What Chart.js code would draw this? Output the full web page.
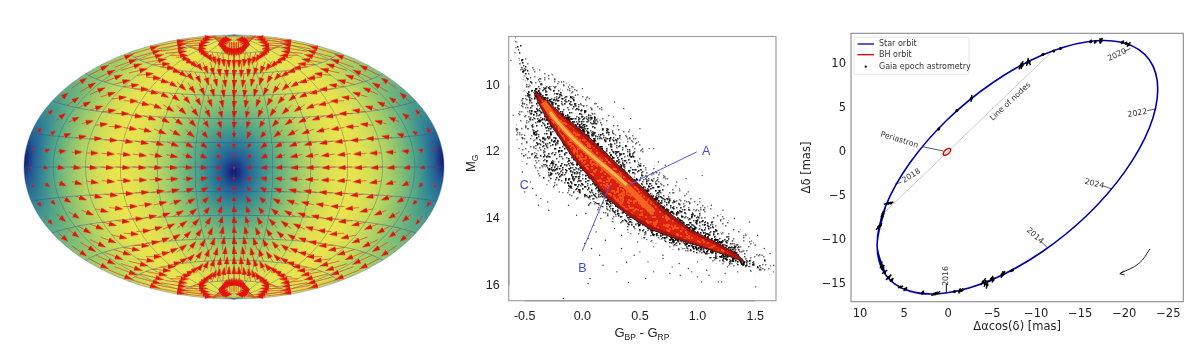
<!DOCTYPE html>
<html><head><meta charset="utf-8">
<script src="https://cdn.jsdelivr.net/npm/chart.js@4/dist/chart.umd.min.js"></script>
<style>
html,body{margin:0;padding:0;background:#fff;width:1200px;height:355px;overflow:hidden}
canvas{position:absolute;display:block}
#sky{left:20px;top:31px;filter:blur(.45px)}
#cmd{left:450px;top:20px;filter:blur(.55px)}
#orbit{left:800px;top:20px;filter:blur(.4px)}
</style></head><body>
<canvas id="sky" width="428" height="272"></canvas>
<canvas id="cmd" width="340" height="335"></canvas>
<canvas id="orbit" width="400" height="320"></canvas>
<script>
/* ---------- left panel: all-sky vector map ---------- */
const arrowLons=[0,13.33,26.67,40,53.33,66.67,80,93.33,106.67,120,133.33,146.67,160,173.33];
const arrowLats=[0,7.5,15,22.5,30,37.5,45,52.5,60,67.5,75,84];
const arrowLengths=[
[0,2.3,4.5,6.4,8.0,9.2,9.8,10,9.6,8.7,7.3,5.5,3.4,1.2],
[1.3,2.7,4.7,6.6,8.3,9.4,9.9,10,9.6,8.7,7.3,5.6,3.6,1.8],
[2.6,3.4,5.1,6.8,8.3,9.4,9.9,10,9.6,8.8,7.5,5.9,4.2,2.8],
[3.8,4.4,5.7,7.2,8.5,9.5,9.9,10,9.6,8.9,7.7,6.4,4.9,4.0],
[5.0,5.4,6.4,7.6,8.7,9.5,9.9,10,9.7,9.0,8.0,6.9,5.8,5.1],
[6.1,6.4,7.1,8.0,8.9,9.6,9.9,10,9.7,9.2,8.4,7.5,6.7,6.2],
[7.1,7.3,7.8,8.5,9.2,9.7,9.9,10,9.8,9.4,8.7,8.1,7.5,7.1],
[7.9,8.0,8.4,8.9,9.4,9.8,9.9,10,9.8,9.5,9.1,8.6,8.2,8.0],
[8.7,8.8,9.0,9.3,9.6,9.8,10,10,9.9,9.7,9.4,9.1,8.8,8.7],
[9.2,9.3,9.4,9.6,9.8,9.9,10,10,10,9.8,9.6,9.5,9.3,9.2],
[9.7,9.7,9.7,9.8,9.9,9.9,10,10,10,9.9,9.8,9.8,9.7,9.7],
[9.9,9.9,9.9,9.9,10,10,10,10,10,10,9.9,9.9,9.9,9.9]];
const apexLatitude=-3;
const meridianLons=[-180,-150,-120,-90,-60,-30,0,30,60,90,120,150,180];
const parallelLats=[-75,-60,-45,-30,-15,0,15,30,45,60,75];
const fieldAngles=[0,10,20,30,40,50,60,70,80,90];
const fieldColors=[[20,20,115],[36,92,150],[52,136,148],[84,166,134],[120,186,120],[155,202,106],[186,214,96],[210,222,86],[226,226,80],[234,228,78]];

/* ---------- middle panel: colour-magnitude diagram ---------- */
const cmdXTicks=[-0.5,0,0.5,1,1.5];
const cmdYTicks=[10,12,14,16];
const cloudOuterX=[-.585,-.527,-.44,-.281,.009,.211,.428,.645,.877,1.166,1.398,1.60,1.673,1.543,1.398,1.109,.732,.414,.211,.009,-.31,-.527,-.585,-.556,-.498,-.556,-.599,-.585];
const cloudOuterY=[8.54,8.73,9.43,9.62,10.22,10.76,11.36,12.49,13.18,13.78,14.37,15.16,15.66,15.71,15.51,15.31,14.87,14.47,13.98,13.53,12.99,12.29,11.40,10.71,10.02,9.43,8.93,8.54];
const cloudInnerX=[-.57,-.527,-.411,-.223,.009,.211,.385,.588,.819,1.109,1.369,1.543,1.369,1.051,.703,.385,.182,-.049,-.281,-.397,-.454,-.498,-.585,-.57];
const cloudInnerY=[8.64,9.13,10.02,10.02,10.61,11.21,11.80,12.79,13.48,14.17,14.87,15.51,15.41,15.11,14.67,14.17,13.68,13.18,12.79,11.90,11.01,9.82,8.83,8.64];
const haloX=[-.5,-.34,-.195,-.02,.155,.33,.505,.68,.91,1.14,1.32,1.45,1.39,1.28,1.08,.85,.62,.415,.24,.095,-.05,-.165,-.28,-.36,-.46,-.5];
const haloY=[9.7,10.28,10.72,11.2,11.76,12.35,12.9,13.5,14.14,14.55,14.92,15.4,15.42,15.27,15.04,14.79,14.48,14.05,13.55,12.97,12.38,11.77,11.18,10.62,10.0,9.7];
const coreX=[-.411,-.31,-.165,.009,.182,.356,.530,.703,.935,1.166,1.34,1.412,1.369,1.253,1.051,.819,.588,.385,.211,.067,-.078,-.194,-.31,-.391,-.411];
const coreY=[10.17,10.46,10.91,11.40,11.95,12.54,13.09,13.68,14.32,14.72,15.06,15.31,15.26,15.11,14.87,14.62,14.32,13.88,13.38,12.79,12.20,11.60,11.01,10.46,10.17];
const hotX=[-.368,-.165,.009,.182,.356,.53,.703,.935,1.166,1.311,1.166,.819,.588,.385,.211,.067,-.078,-.194,-.31,-.368];
const hotY=[10.34,11.01,11.55,12.10,12.69,13.23,13.83,14.42,14.82,15.11,14.97,14.52,14.19,13.76,13.23,12.64,12.05,11.45,10.86,10.34];
const orangeRidgeX=[-.339,-.223,-.064,.096,.269,.443,.616];
const orangeRidgeY=[10.51,11.06,11.65,12.15,12.68,13.23,13.83];
const yellowRidgeX=[-.281,-.223,-.064,.096,.269,.385];
const yellowRidgeY=[10.81,11.06,11.65,12.15,12.64,12.99];
const lineAX=[.40,.993];
const lineAY=[12.99,12.0];
const lineBX=[.24,0];
const lineBY=[12.99,14.97];
const axisLeftX=[-.639,-.639];
const axisLeftY=[10,16];
const axisBottomX=[-.5,1.5];
const axisBottomY=[16.466,16.466];
const cmdLabels=['A','B','C'];
const cmdLabelX=[1.075,0,-.505];
const cmdLabelY=[11.98,15.51,13.01];
const strayX=[1.04,1.505,.067,.05,.385,.40,-.165,1.036,1.21,-.62,-.6,-.52,-.43,-.5,-.47,-.38,-.29,-.2,-.12,-.05,.03,.12,.2,.08,.15,.28,.34,.45,.5,.57,.62,.7,.78,.85,.95,1.0,1.1,1.18,1.26,1.35,1.45,1.52,1.58,1.63,1.66,.1,.16,.22,.05,.02,.18,.3,.34,.48,.55,.62,.7,.76,.84,.92,1.0,1.08,1.16,1.24,-.55,-.5,-.45,-.4,-.36,-.3,-.24,-.18,-.12,-.06,.0,.06,.12,.62,.72,.82,.92,1.02,1.12,1.22,1.32,1.42,1.5,1.56,.42,.5,.58,.36,.28,.66,.9];
const strayY=[12.71,16.05,15.8,15.95,15.31,15.92,16.4,15.9,15.9,9.25,10.9,12.6,13.1,13.2,11.3,13.6,13.75,13.2,13.6,13.9,13.85,14.4,14.65,14.9,15.1,14.3,14.9,15.1,15.0,15.3,15.6,15.2,15.45,15.7,15.6,15.75,15.7,15.9,15.45,15.6,14.1,14.5,14.9,15.05,15.4,14.2,14.0,13.9,14.6,14.75,15.4,15.6,14.5,14.7,15.8,14.85,15.1,15.65,15.35,15.5,15.3,15.55,15.2,15.65,11.9,11.5,12.9,13.3,13.4,13.5,13.0,9.9,10.05,10.3,10.1,10.4,10.55,11.9,12.4,12.9,13.2,13.4,13.6,13.75,14.0,14.5,14.8,15.1,11.0,11.3,11.9,10.7,10.5,12.3,12.8];

/* ---------- right panel: astrometric orbit ---------- */
const orbitXTicks=[10,5,0,-5,-10,-15,-20,-25];
const orbitYTicks=[10,5,0,-5,-10,-15];
const starX=[7.10,8.06,7.10,4.33,.095,-5.10,-10.64,-15.84,-20.07,-22.84,-23.8,-22.84,-20.07,-15.84,-10.64,-5.10,.095,4.33,7.10,8.06,7.10];
const starY=[-13.91,-10.57,-6.15,-1.20,3.70,7.93,11.02,12.56,12.38,10.51,7.17,2.75,-2.20,-7.10,-11.33,-14.42,-15.96,-15.78,-13.91,-10.57,-6.15];
const bhX=[.57,.42,-.08,-.3,-.15,.27,.57];
const bhY=[-.3,.15,.45,.34,-.04,-.34,-.3];
const gaiaX=[7.88,7.7,7.5,7.4,6.8,6.5,1.06,-1,-2.65,-8.2,-8.4,-9,-9.2,-10.75,-12,-12.75,-16.2,-16.7,-17.3,-17.4,-19.8,-20.2,-20.5,7.6,7.4,7.2,6.74,6.4,5.4,4.85,2.88,1.6,1.2,-.72,-1.3,-1.6,-3.98,-4.2,-4.43,-4.9,-5.1,-6.13,-6.3,-7.27];
const gaiaY=[-8.5,-8.3,-7.3,-7,-5.8,-5.75,2.65,4.75,6.13,9.8,9.9,10.2,10.3,11.1,11.5,11.8,12.6,12.55,12.65,12.7,12.5,12.4,12.25,-12.8,-13.1,-13.6,-14.2,-14.5,-15.3,-15.55,-15.95,-16.1,-16,-15.83,-15.75,-15.65,-14.7,-14.9,-15.05,-14.4,-14.5,-13.9,-13.8,-13.4];
const gaiaBarX=[.3,.2,.1,.05,.5,.3,.1,.1,.05,.15,.1,.1,-.15,.2,.1,.1,.1,.1,.05,.1,.15,.1,.2,.1,.15,.3,.3,.2,.3,.2,.1,.3,.3,.1,.1,.1,.3,.1,.1,.2,.1,.1,.15,.2];
const gaiaBarY=[.3,.25,.4,.3,.1,.1,.15,.1,.4,.4,.45,.4,.4,.1,.1,.1,.2,.2,.3,.3,.2,.15,.25,.4,.3,.2,.3,.2,.1,.2,.25,.2,.2,.1,.3,.2,.4,.4,.45,.35,.3,.4,.3,.2];
const nodesX=[-11.6,7.5];
const nodesY=[11.25,-7.1];
const leaderX=[-19.96,-20.7,NaN,-22.6,-23.56,NaN,-17.6,-18.6,NaN,-10.57,-11.25,NaN,.19,.19,NaN,5.3,5.98,NaN,2.95,.57];
const leaderY=[11.44,11.8,NaN,4.73,4.92,NaN,-3.8,-4.2,NaN,-10.15,-10.83,NaN,-15,-15.95,NaN,-3.4,-3.6,NaN,.64,.15];
const curveX=[-22.9,-21.7,-19.5];
const curveY=[-11,-12.6,-13.8];
const barbX=[-20.0,-19.5,-20.05];
const barbY=[-13.45,-13.8,-13.95];
const noteText=['2020','2022','2024','2014','2016','2018','Line of nodes','Periastron'];
const noteX=[-19.2,-21.5,-16.6,-9.85,.19,4.17,-7.08,5.53];
const noteY=[11.06,4.43,-3.6,-9.5,-14.05,-2.69,5.76,1.4];
const noteAngle=[-25,-10,14,42,-90,-32,-43,17];
const legendNames=['Star orbit','BH orbit','Gaia epoch astrometry'];

/* ---------- helpers ---------- */
const rad=d=>d*Math.PI/180, deg=r=>r*180/Math.PI;
function hammer(lon,lat){const l=rad(lon),p=rad(lat),z=Math.sqrt(1+Math.cos(p)*Math.cos(l/2));
  return {x:Math.cos(p)*Math.sin(l/2)/z,y:Math.sin(p)/z};}
const pairs=(xs,ys)=>xs.map((x,i)=>({x,y:ys[i]}));
const base={responsive:false,animation:false,events:[],plugins:{legend:{display:false},tooltip:{enabled:false}}};
/* fill textures only: a fixed xorshift walk picks the grain positions of a tile */
function grain(size,n,paint,dot){let s=2463534242;const next=()=>{s^=s<<13;s^=s>>>17;s^=s<<5;return s>>>0;};
  const c=document.createElement('canvas');c.width=c.height=size;const g=c.getContext('2d');paint(g);
  for(let i=0;i<n;i++){g.fillRect(next()%size,next()%size,dot,dot);}
  return g.createPattern(c,'repeat');}
const stipple=(n,alpha)=>grain(256,n,g=>{g.fillStyle='rgba(0,0,0,'+alpha+')';},1.5);
const speck=(col,bg,n)=>grain(128,n,g=>{g.fillStyle=bg;g.fillRect(0,0,128,128);g.fillStyle=col;},2);
const frame=(color,w)=>({id:'frame',afterDraw(ch){const a=ch.chartArea,g=ch.ctx;g.save();g.strokeStyle=color;g.lineWidth=w;
  g.strokeRect(a.left,a.top,a.right-a.left,a.bottom-a.top);g.restore();}});

/* ---------- left chart ---------- */
function headCanvas(w,h){const c=document.createElement('canvas');c.width=w;c.height=h;const g=c.getContext('2d');
  g.fillStyle='#e0120a';g.beginPath();g.moveTo(w/2,0);g.lineTo(w,h);g.lineTo(0,h);g.closePath();g.fill();return c;}
const heads=[headCanvas(2,3),headCanvas(4,5),headCanvas(5,7),headCanvas(5,8)];
const shaft=[],tipPts=[],tipRot=[],tipStyle=[];
const apex=[Math.cos(rad(apexLatitude)),0,Math.sin(rad(apexLatitude))];
[-1,1].forEach(sy=>arrowLats.forEach((la,r)=>{ if(sy<0&&la===0) return;
 [-1,1].forEach(sx=>arrowLons.forEach((lo,c)=>{ if(sx<0&&lo===0) return;
  const lat=sy*la,lon=sx*lo,len=arrowLengths[r][c]*1.05;
  const P=[Math.cos(rad(lat))*Math.cos(rad(lon)),Math.cos(rad(lat))*Math.sin(rad(lon)),Math.sin(rad(lat))];
  const d=P[0]*apex[0]+P[2]*apex[2];
  let u=[apex[0]-d*P[0],-d*P[1],apex[2]-d*P[2]];const n=Math.hypot(...u)||1;u=u.map(v=>v/n);
  const t=rad(Math.max(len,.9)),E=P.map((v,i)=>v*Math.cos(t)+u[i]*Math.sin(t));
  const a=hammer(lon,lat),b=hammer(deg(Math.atan2(E[1],E[0])),deg(Math.asin(E[2])));
  shaft.push(a,b,{x:NaN,y:NaN});
  tipPts.push({x:a.x+(b.x-a.x)*.8,y:a.y+(b.y-a.y)*.8});
  tipRot.push(deg(Math.atan2((b.x-a.x)*210,(b.y-a.y)*132)));
  tipStyle.push(heads[len<2?0:len<4.5?1:len<7?2:3]);
 }));
}));
const merPts=[],parPts=[];
meridianLons.forEach(lo=>{for(let la=-90;la<=90;la+=3)merPts.push(hammer(lo,la));merPts.push({x:NaN,y:NaN});});
parallelLats.forEach(la=>{for(let lo=-180;lo<=180;lo+=5)parPts.push(hammer(lo,la));parPts.push({x:NaN,y:NaN});});
const skyField={id:'skyField',beforeDatasetsDraw(ch){
  const {left,top,right,bottom}=ch.chartArea,w=Math.round(right-left),h=Math.round(bottom-top),sx=ch.scales.x,sy=ch.scales.y;
  const off=document.createElement('canvas');off.width=w;off.height=h;const g=off.getContext('2d'),im=g.createImageData(w,h);
  const A=[Math.cos(rad(apexLatitude)),Math.sin(rad(apexLatitude))];
  for(let j=0;j<h;j++)for(let i=0;i<w;i++){
    let x=sx.getValueForPixel(left+i+.5),y=sy.getValueForPixel(top+j+.5);const r=Math.hypot(x,y);
    if(r>.999){x*=.999/r;y*=.999/r;}
    const X=x*2*Math.SQRT2,Y=y*Math.SQRT2,z=Math.sqrt(Math.max(0,1-X*X/16-Y*Y/4));
    const lon=2*Math.atan2(z*X,2*(2*z*z-1)),lat=Math.asin(z*Y);
    let cd=Math.cos(lat)*Math.cos(lon)*A[0]+Math.sin(lat)*A[1];
    let ang=deg(Math.acos(Math.abs(Math.min(1,Math.max(-1,cd)))));
    const k=Math.min(fieldAngles.length-2,Math.floor(ang/10)),f=ang/10-k,o=(j*w+i)*4;
    for(let q=0;q<3;q++)im.data[o+q]=fieldColors[k][q]*(1-f)+fieldColors[k+1][q]*f;
    im.data[o+3]=255;
  }
  g.putImageData(im,0,0);
  const c=ch.ctx;c.save();c.beginPath();
  c.ellipse(sx.getPixelForValue(0),sy.getPixelForValue(0),sx.getPixelForValue(1)-sx.getPixelForValue(0),sy.getPixelForValue(-1)-sy.getPixelForValue(0),0,0,Math.PI*2);
  c.clip();c.drawImage(off,left,top);c.restore();
}};
new Chart(document.getElementById('sky'),{type:'scatter',plugins:[skyField],
 data:{datasets:[
  {data:tipPts,pointStyle:tipStyle,pointRotation:tipRot,pointRadius:3,backgroundColor:'#e0120a',borderWidth:0,clip:false},
  {data:shaft,showLine:true,pointRadius:0,borderColor:'rgba(222,50,24,.7)',borderWidth:.9,spanGaps:false,clip:false},
  {data:parPts,showLine:true,pointRadius:0,borderColor:'rgba(40,70,170,.5)',borderWidth:.8,spanGaps:false,clip:false},
  {data:merPts,showLine:true,pointRadius:0,borderColor:'rgba(50,90,140,.55)',borderWidth:.7,spanGaps:false,clip:false}
 ]},
 options:{...base,layout:{padding:0,autoPadding:false},scales:{
  x:{type:'linear',display:false,min:-1.0190,max:1.0190},
  y:{type:'linear',display:false,min:-1.0303,max:1.0303}}}});

/* ---------- middle chart ---------- */
const area=(xs,ys,fill,order,extra)=>({data:pairs(xs,ys),showLine:true,pointRadius:0,fill:'shape',backgroundColor:fill,borderWidth:0,order,...extra});
const cmdText={id:'cmdText',afterDraw(ch){const g=ch.ctx,sx=ch.scales.x,sy=ch.scales.y;g.save();
  g.font='12.5px "Liberation Sans"';g.fillStyle='#4646c8';g.textAlign='center';g.textBaseline='middle';
  cmdLabels.forEach((t,i)=>g.fillText(t,sx.getPixelForValue(cmdLabelX[i]),sy.getPixelForValue(cmdLabelY[i])));
  g.fillStyle='#222';g.textAlign='left';g.textBaseline='alphabetic';
  const run=(parts,x,y)=>{parts.forEach(([t,sub])=>{g.font=(sub?'8.5px':'13px')+' "Liberation Sans"';g.fillText(t,x,y+(sub?3:0));x+=g.measureText(t).width;});};
  const ps=[['G'],['BP',1],[' - G'],['RP',1]];
  run(ps,164.5,317);
  g.translate(25,152);g.rotate(-Math.PI/2);run([['M'],['G',1]],0,0);
  g.restore();}};
new Chart(document.getElementById('cmd'),{type:'scatter',plugins:[frame('#a0a0a0',1.2),cmdText],
 data:{datasets:[
  {data:pairs(lineAX,lineAY),showLine:true,pointRadius:0,borderColor:'#5858d8',borderWidth:1,order:1},
  {data:pairs(lineBX,lineBY),showLine:true,pointRadius:0,borderColor:'#5858d8',borderWidth:1,order:1},
  {data:pairs(axisLeftX,axisLeftY),showLine:true,pointRadius:0,borderColor:'#666',borderWidth:1.3,clip:false,order:0},
  {data:pairs(axisBottomX,axisBottomY),showLine:true,pointRadius:0,borderColor:'#666',borderWidth:1.3,clip:false,order:0},
  {data:pairs(yellowRidgeX,yellowRidgeY),showLine:true,pointRadius:0,borderColor:'#ffb84c',borderWidth:3,tension:.3,order:2},
  {data:pairs(orangeRidgeX,orangeRidgeY),showLine:true,pointRadius:0,borderColor:'#f4641e',borderWidth:6,tension:.3,order:3},
  area(hotX,hotY,speck('#f4501a','#d8200f',1800),4),
  area(coreX,coreY,'#a81410',5,{borderColor:'#3a0808',borderWidth:.8}),
  area(haloX,haloY,stipple(20000,.72),6),
  {data:pairs(strayX,strayY),pointRadius:.7,backgroundColor:'#333',borderWidth:0,order:7},
  area(cloudInnerX,cloudInnerY,stipple(11000,.68),8),
  area(cloudOuterX,cloudOuterY,stipple(3800,.55),9)
 ]},
 options:{...base,layout:{padding:{left:0,right:14,top:13.3,bottom:0},autoPadding:false},scales:{
  x:{type:'linear',min:-.639,max:1.681,grid:{display:false,drawTicks:false},border:{display:false},
     afterFit:s=>{s.height=54.3},afterBuildTicks:s=>{s.ticks=cmdXTicks.map(value=>({value}))},
     ticks:{padding:8,maxRotation:0,autoSkip:false,color:'#222',font:{family:'Liberation Sans',size:12.5},callback:v=>v.toFixed(1)}},
  y:{type:'linear',reverse:true,min:8.534,max:16.466,grid:{display:false,drawTicks:false},border:{display:false},
     afterFit:s=>{s.width=58.7},afterBuildTicks:s=>{s.ticks=cmdYTicks.map(value=>({value}))},
     ticks:{padding:9,autoSkip:false,color:'#222',font:{family:'Liberation Sans',size:12.5}}}}}});

/* ---------- right chart ---------- */
const gaiaBars=[];gaiaX.forEach((x,i)=>{gaiaBars.push({x:x-gaiaBarX[i],y:gaiaY[i]+gaiaBarY[i]},{x:x+gaiaBarX[i],y:gaiaY[i]-gaiaBarY[i]},{x:NaN,y:NaN});});
const orbitText={id:'orbitText',afterDraw(ch){const g=ch.ctx,sx=ch.scales.x,sy=ch.scales.y;g.save();
  g.font='7.8px "DejaVu Sans"';g.fillStyle='#333';g.textAlign='center';g.textBaseline='middle';
  noteText.forEach((t,i)=>{g.save();g.translate(sx.getPixelForValue(noteX[i]),sy.getPixelForValue(noteY[i]));g.rotate(rad(noteAngle[i]));g.fillText(t,0,0);g.restore();});
  g.fillStyle='rgba(255,255,255,.85)';g.strokeStyle='#ddd';g.lineWidth=.8;g.beginPath();g.roundRect(54,17.3,115,37,2);g.fill();g.stroke();
  const cols=['#0000b0','#e00000'],ys=[24,34.7,46.7];
  cols.forEach((c,i)=>{g.strokeStyle=c;g.lineWidth=1.3;g.beginPath();g.moveTo(57.5,ys[i]);g.lineTo(74,ys[i]);g.stroke();});
  g.fillStyle='#000';g.beginPath();g.arc(65.7,ys[2],1.1,0,7);g.fill();
  g.font='8px "DejaVu Sans"';g.fillStyle='#333';g.textAlign='left';
  legendNames.forEach((t,i)=>g.fillText(t,79,ys[i]));
  g.restore();}};
new Chart(document.getElementById('orbit'),{type:'scatter',plugins:[frame('#8a8a8a',1.1),orbitText],
 data:{datasets:[
  {data:pairs(gaiaX,gaiaY),pointRadius:1.5,backgroundColor:'#000',borderWidth:0,order:1},
  {data:gaiaBars,showLine:true,pointRadius:0,borderColor:'#000',borderWidth:1.5,spanGaps:false,order:2},
  {data:pairs(bhX,bhY),showLine:true,pointRadius:0,borderColor:'#e00000',borderWidth:1.4,tension:.34,order:3},
  {data:pairs(starX,starY),showLine:true,pointRadius:0,borderColor:'#0000b0',borderWidth:1.6,tension:.34,order:4},
  {data:pairs(nodesX,nodesY),showLine:true,pointRadius:0,borderColor:'#b5b5b5',borderWidth:.7,order:5},
  {data:pairs(leaderX,leaderY),showLine:true,pointRadius:0,borderColor:'#333',borderWidth:.8,spanGaps:false,order:5},
  {data:pairs(curveX,curveY),showLine:true,pointRadius:0,borderColor:'#111',borderWidth:.9,tension:.4,order:5},
  {data:pairs(barbX,barbY),showLine:true,pointRadius:0,borderColor:'#111',borderWidth:.9,order:5}
 ]},
 options:{...base,layout:{padding:{left:0,right:16.7,top:13.3,bottom:0},autoPadding:false},scales:{
  x:{type:'linear',reverse:true,min:-26.7,max:11.02,grid:{display:false,tickLength:3,tickColor:'#444'},border:{display:false},
     afterFit:s=>{s.height=38.3},afterBuildTicks:s=>{s.ticks=orbitXTicks.map(value=>({value}))},
     title:{display:true,text:'Δαcos(δ) [mas]',color:'#222',font:{family:'DejaVu Sans',size:11.5},padding:{top:0,bottom:6}},
     ticks:{padding:2,maxRotation:0,autoSkip:false,color:'#222',font:{family:'DejaVu Sans',size:11.5},callback:v=>String(v).replace('-','\u2212')}},
  y:{type:'linear',min:-16.98,max:13.52,grid:{display:false,tickLength:3,tickColor:'#444'},border:{display:false},
     afterFit:s=>{s.width=51},afterBuildTicks:s=>{s.ticks=orbitYTicks.map(value=>({value}))},
     title:{display:true,text:'Δδ [mas]',color:'#222',font:{family:'DejaVu Sans',size:11.5},padding:{top:0,bottom:0}},
     ticks:{padding:2,autoSkip:false,color:'#222',font:{family:'DejaVu Sans',size:11.5},callback:v=>String(v).replace('-','\u2212')}}}}});
</script>
</body></html>
